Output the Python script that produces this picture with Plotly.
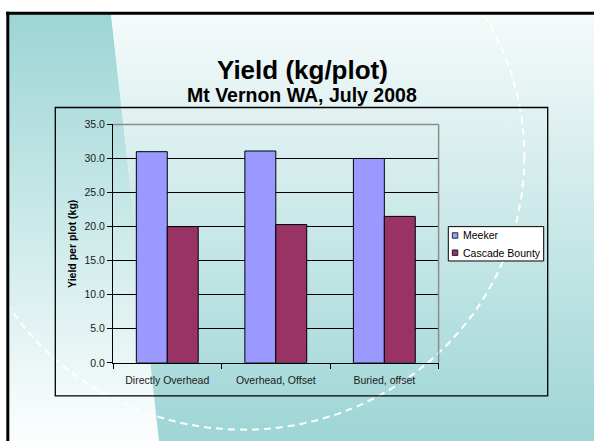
import numpy as np
import plotly.graph_objects as go

# ---------------- data ----------------
categories = ["Directly Overhead", "Overhead, Offset", "Buried, offset"]
series_names = ["Meeker", "Cascade Bounty"]
meeker = [31.0, 31.1, 30.0]
cascade_bounty = [20.0, 20.3, 21.5]
series_values = [meeker, cascade_bounty]
series_colors = ["#9999FF", "#993366"]
y_ticks = [0, 5, 10, 15, 20, 25, 30, 35]

title_text = "Yield (kg/plot)"
subtitle_text = "Mt Vernon WA, July 2008"
y_title = "Yield per plot (kg)"

W, H = 594, 447
FONT = "Liberation Sans, Arial, sans-serif"
TEAL = "#9DD5D5"


def Y(py):
    """pixel row -> background axis value"""
    return H - py


fig = go.Figure()

# ---------------- slide background (pixel-space subplot) ----------------
fig.add_trace(go.Scatter(
    x=[8, 111, 159, 8, 8], y=[Y(8), Y(8), Y(447), Y(447), Y(8)],
    mode="lines", fill="toself", line=dict(width=0),
    fillgradient=dict(type="vertical", colorscale=[[0, "#FAFDFD"], [1, TEAL]],
                      start=Y(425), stop=Y(8)),
    hoverinfo="skip", showlegend=False, xaxis="x", yaxis="y"))
fig.add_trace(go.Scatter(
    x=[111, 594, 594, 159, 111], y=[Y(8), Y(8), Y(447), Y(447), Y(8)],
    mode="lines", fill="toself", line=dict(width=0),
    fillgradient=dict(type="vertical", colorscale=[[0, TEAL], [1, "#F5FAFA"]],
                      start=Y(440), stop=Y(8)),
    hoverinfo="skip", showlegend=False, xaxis="x", yaxis="y"))

# dashed decorative circle
th = np.linspace(0, 2 * np.pi, 1441)
cx, cy, r = 243.5, 154.5, 281.0
px = cx + r * np.cos(th)
py = cy + r * np.sin(th)
mask = (px < 9.5) | (py < 9.5)
px = np.where(mask, np.nan, px)
py = np.where(mask, np.nan, py)
fig.add_trace(go.Scatter(
    x=px, y=H - py, mode="lines", connectgaps=False,
    line=dict(color="white", width=2, dash="7px,5px"),
    hoverinfo="skip", showlegend=False, xaxis="x", yaxis="y"))

# ---------------- bars ----------------
for name, vals, col in zip(series_names, series_values, series_colors):
    fig.add_trace(go.Bar(
        x=categories, y=vals, name=name,
        marker=dict(color=col, line=dict(color="#000000", width=1)),
        showlegend=False, xaxis="x2", yaxis="y2"))

# ---------------- layout ----------------
tickfont = dict(family=FONT, size=10.5, color="#1a1a1a")
fig.update_layout(
    width=W, height=H,
    margin=dict(l=0, r=0, t=0, b=0),
    paper_bgcolor="white",
    plot_bgcolor="rgba(0,0,0,0)",
    barmode="group", bargap=0.43, bargroupgap=0,
    xaxis=dict(domain=[0, 1], range=[0, W], visible=False, fixedrange=True),
    yaxis=dict(domain=[0, 1], range=[0, H], visible=False, fixedrange=True),
    xaxis2=dict(domain=[113 / W, 438.6 / W], anchor="y2",
                showline=True, linecolor="#000000", linewidth=1,
                ticks="outside", tickson="boundaries", ticklen=5,
                tickcolor="#000000", tickfont=tickfont, showgrid=False,
                ticklabelstandoff=8),
    yaxis2=dict(domain=[1 - 366.7 / H, 1 - 121.7 / H], anchor="x2",
                range=[0, 35], tickvals=y_ticks, tickformat=".1f",
                showgrid=True, gridcolor="#000000", gridwidth=1,
                zeroline=False, showline=True, linecolor="#000000",
                linewidth=1, ticks="outside", ticklen=5, tickcolor="#000000",
                tickfont=tickfont),
    showlegend=False,
)

shapes = [
    # slide border
    dict(type="line", xref="x", yref="y", x0=6, x1=W, y0=Y(7.5), y1=Y(7.5),
         line=dict(color="#000000", width=3)),
    dict(type="line", xref="x", yref="y", x0=7.8, x1=7.8, y0=Y(6), y1=Y(H),
         line=dict(color="#000000", width=3)),
    # chart frame
    dict(type="rect", xref="x", yref="y", x0=55.3, x1=547.7, y0=Y(104.3), y1=Y(400.7),
         line=dict(color="#000000", width=1.3)),
    # gray plot-area border (top & right)
    dict(type="line", xref="x2 domain", yref="y2 domain", x0=0, x1=1, y0=1, y1=1,
         line=dict(color="#8C8C8C", width=1.5)),
    dict(type="line", xref="x2 domain", yref="y2 domain", x0=1, x1=1, y0=0, y1=1,
         line=dict(color="#8C8C8C", width=1.5)),
    # legend box
    dict(type="rect", xref="x", yref="y", x0=448.3, x1=543.7, y0=Y(226.7), y1=Y(262),
         fillcolor="white", line=dict(color="#000000", width=1)),
]
legend_rows = [235.8, 253.5]
for col, yc in zip(series_colors, legend_rows):
    shapes.append(dict(type="rect", xref="x", yref="y", x0=452.3, x1=457.8,
                       y0=Y(yc - 2.8), y1=Y(yc + 2.8), fillcolor=col,
                       line=dict(color="#000000", width=0.8)))
fig.update_layout(shapes=shapes)

annotations = [
    dict(x=302, y=Y(65.5), xref="x", yref="y", text="<b>" + title_text + "</b>",
         showarrow=False, xanchor="center", yanchor="middle", borderpad=0,
         font=dict(family=FONT, size=26, color="#000000")),
    dict(x=302, y=Y(91.5), xref="x", yref="y", text="<b>" + subtitle_text + "</b>",
         showarrow=False, xanchor="center", yanchor="middle", borderpad=0,
         font=dict(family=FONT, size=19.5, color="#000000")),
    dict(x=72, y=Y(244.5), xref="x", yref="y", text="<b>" + y_title + "</b>",
         textangle=-90, showarrow=False, xanchor="center", yanchor="middle",
         font=dict(family=FONT, size=10.5, color="#000000")),
]
for name, yc in zip(series_names, legend_rows):
    annotations.append(dict(x=460.5, y=Y(yc), xref="x", yref="y", text=name,
                            showarrow=False, xanchor="left", yanchor="middle",
                            font=dict(family=FONT, size=10.5, color="#000000")))
fig.update_layout(annotations=annotations)

fig.write_html(
    "out.html",
    config=dict(displayModeBar=False, staticPlot=True),
    post_script="document.body.style.margin='0';document.body.style.padding='0';"
                "document.body.style.overflow='hidden';",
)
